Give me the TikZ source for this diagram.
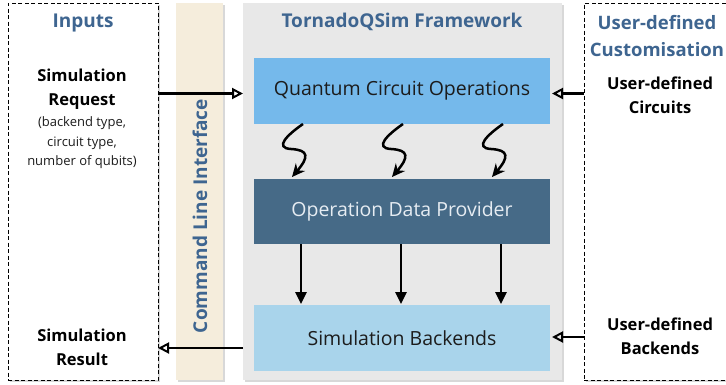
\documentclass[tikz,border=0pt]{standalone}
\usepackage{fontspec}
\setmainfont{Open Sans}
\usetikzlibrary{arrows.meta,shadows}
\definecolor{fwgray}{HTML}{E8E8E8}
\definecolor{clibeige}{HTML}{F5EDDC}
\definecolor{qcoblue}{HTML}{75B9EB}
\definecolor{odpblue}{HTML}{466A87}
\definecolor{sbblue}{HTML}{A9D4EB}
\definecolor{titleblue}{HTML}{3E6590}
\definecolor{darktext}{HTML}{1C1C1C}
\definecolor{lighttext}{HTML}{E6ECF2}
\tikzset{
  plain/.style={inner sep=0pt, outer sep=0pt},
  shadowed/.style={drop shadow={opacity=0.3, shadow xshift=1.5pt, shadow yshift=-1.5pt}},
  dashedbox/.style={plain, draw=black, fill=white, line width=1pt, dash pattern=on 4pt off 2.5pt, shadowed},
  layerbox/.style={plain, minimum width=296pt},
  titletext/.style={plain, text=titleblue, font=\fontsize{19}{27}\selectfont\bfseries, align=center},
  sidetext/.style={plain, text=black, font=\fontsize{16.5}{24}\selectfont\bfseries, align=center},
  smalltext/.style={plain, text=darktext, font=\fontsize{13}{19.5}\selectfont, align=center},
  layertext/.style={plain, font=\fontsize{19.5}{22}\selectfont},
  openarrow/.style={line width=2.3pt, -{Triangle[open, length=11pt, width=11pt, line width=2pt]}},
  snakearrow/.style={line width=2.5pt, -{Stealth[length=13pt, width=12pt]}},
  downarrow/.style={line width=2.5pt, -{Triangle[length=12pt, width=11pt]}}
}
\begin{document}
\begin{tikzpicture}[x=1pt,y=-1pt]
\useasboundingbox (0,0) rectangle (726,384);
\fill[white] (0,0) rectangle (726,384);
% containers
\node[dashedbox, minimum width=150pt, minimum height=377pt] (inputs) at (83,191.5) {};
\node[dashedbox, minimum width=152pt, minimum height=377pt] (custom) at (660,191.5) {};
\node[plain, fill=clibeige, minimum width=47pt, minimum height=377pt, shadowed] (cli) at (199.5,191.5) {};
\node[plain, fill=fwgray, minimum width=319pt, minimum height=377pt, shadowed] (fw) at (402.5,191.5) {};
% layers
\node[layerbox, fill=qcoblue, minimum height=66pt] (qco) at (402,91) {};
\node[layerbox, fill=odpblue, minimum height=65pt] (odp) at (402,211.5) {};
\node[layerbox, fill=sbblue, minimum height=66pt] (sb) at (402,338) {};
\node[layertext, text=darktext] (qcot) at (qco.center) {Quantum Circuit Operations};
\node[layertext, text=lighttext] (odpt) at (odp.center) {Operation Data Provider};
\node[layertext, text=darktext] (sbt) at (sb.center) {Simulation Backends};
% titles
\node[titletext] (intitle) at (83,23) {Inputs};
\node[titletext] (fwtitle) at (402,22) {TornadoQSim Framework};
\node[titletext, font=\fontsize{18.5}{27}\selectfont\bfseries] (cutitle) at (657,36) {User-defined\\Customisation};
\node[plain, text=titleblue, font=\fontsize{19}{22}\selectfont\bfseries, rotate=90] (clit) at (200,216) {Command Line Interface};
% side texts
\node[sidetext] (req) at (82,89.5) {Simulation\\Request};
\node[smalltext] (reqd) at (82,143) {(backend type,\\circuit type,\\number of qubits)};
\node[sidetext] (res) at (82,347) {Simulation\\Result};
\node[sidetext] (udc) at (660,95) {User-defined\\Circuits};
\node[sidetext] (udb) at (660,336.5) {User-defined\\Backends};
% arrow anchors
\coordinate (ya) at (0,93.5);
\coordinate (yb) at (0,348);
\coordinate (yc) at (0,337);
% connectors
\draw[openarrow] (inputs.east |- ya) -- (fw.west |- ya);
\draw[openarrow] (custom.west |- ya) -- ([xshift=2pt]qco.east |- ya);
\draw[openarrow] (fw.west |- yb) -- (inputs.east |- yb);
\draw[openarrow] (custom.west |- yc) -- ([xshift=2pt]sb.east |- yc);
\foreach \d in {0,100,200}{
  \draw[snakearrow] ([xshift=49pt+\d pt]qco.south west)
    .. controls (287+\d,135) and (274+\d,148) .. (291+\d,149)
    .. controls (309+\d,150) and (309+\d,157) .. ([xshift=38pt+\d pt, yshift=2pt]odp.north west);
  \draw[downarrow] ([xshift=47pt+\d pt]odp.south west) -- ([xshift=47pt+\d pt, yshift=1pt]sb.north west);
}
\end{tikzpicture}
\end{document}
